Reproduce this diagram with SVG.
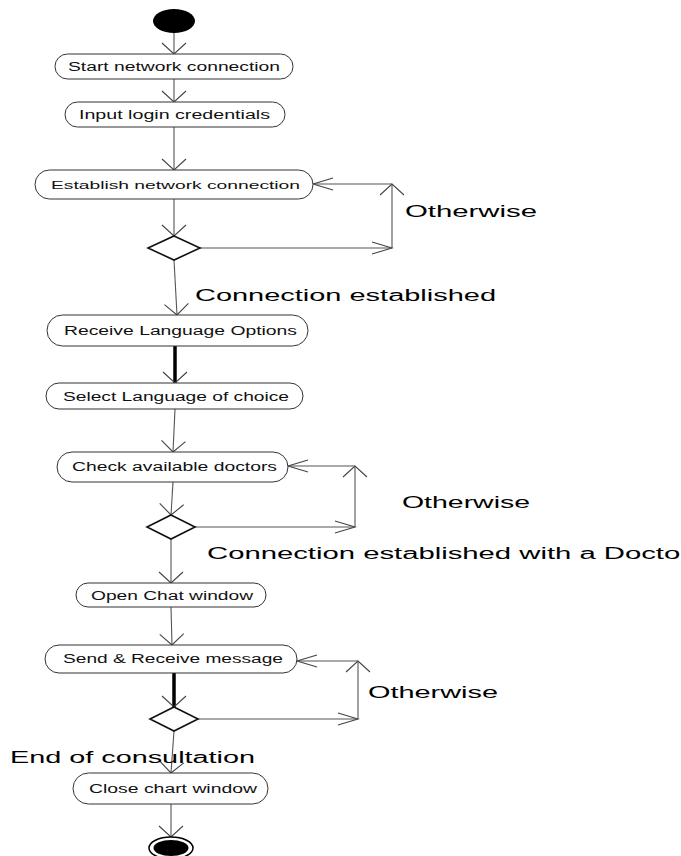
<svg xmlns="http://www.w3.org/2000/svg" width="681" height="856" viewBox="0 0 681 856">
<style>
.act{fill:#fff;stroke:#333;stroke-width:1}
.at{font-family:"Liberation Sans",Arial,sans-serif;font-size:12px;fill:#111;text-anchor:start}
.lbl{font-family:"Liberation Sans",Arial,sans-serif;font-size:16px;fill:#000}
.dia{fill:#fff;stroke:#111;stroke-width:1.6}
.c{fill:none;stroke:#555;stroke-width:1.1}
.thick{fill:none;stroke:#000;stroke-width:3.5}
</style>
<defs>
<marker id="aV" markerUnits="userSpaceOnUse" markerWidth="14" markerHeight="28" refX="12" refY="13" orient="auto" overflow="visible">
<path d="M1,1 L12,13 L1,25" fill="none" stroke="#444" stroke-width="1.1"/>
</marker>
<marker id="aH" markerUnits="userSpaceOnUse" markerWidth="24" markerHeight="16" refX="21" refY="7" orient="auto" overflow="visible">
<path d="M1,1 L21,7 L1,13" fill="none" stroke="#444" stroke-width="1.1"/>
</marker>
</defs>

<g id="connectors">
<line class="c" x1="174" y1="33" x2="174" y2="54" marker-end="url(#aV)"/>
<line class="c" x1="174" y1="79" x2="174" y2="102" marker-end="url(#aV)"/>
<line class="c" x1="174" y1="127" x2="174" y2="170" marker-end="url(#aV)"/>
<line class="c" x1="174" y1="199" x2="174" y2="236" marker-end="url(#aV)"/>
<line class="c" x1="200" y1="248" x2="392" y2="248" marker-end="url(#aH)"/>
<line class="c" x1="392" y1="248" x2="392" y2="184" marker-end="url(#aV)"/>
<line class="c" x1="392" y1="184" x2="313" y2="184" marker-end="url(#aH)"/>
<line class="c" x1="174" y1="260" x2="177" y2="315" marker-end="url(#aV)"/>
<line class="thick" x1="175" y1="346" x2="175" y2="383" marker-end="url(#aV)"/>
<line class="c" x1="175" y1="409" x2="173" y2="452" marker-end="url(#aV)"/>
<line class="c" x1="173" y1="482" x2="171" y2="515" marker-end="url(#aV)"/>
<line class="c" x1="195" y1="527" x2="355" y2="527" marker-end="url(#aH)"/>
<line class="c" x1="355" y1="527" x2="355" y2="466" marker-end="url(#aV)"/>
<line class="c" x1="355" y1="466" x2="288" y2="466" marker-end="url(#aH)"/>
<line class="c" x1="171" y1="539" x2="171" y2="583" marker-end="url(#aV)"/>
<line class="c" x1="171" y1="607" x2="172" y2="645" marker-end="url(#aV)"/>
<line class="thick" x1="174" y1="673" x2="174" y2="707" marker-end="url(#aV)"/>
<line class="c" x1="198" y1="719" x2="358" y2="719" marker-end="url(#aH)"/>
<line class="c" x1="358" y1="719" x2="358" y2="661" marker-end="url(#aV)"/>
<line class="c" x1="358" y1="661" x2="297" y2="661" marker-end="url(#aH)"/>
<line class="c" x1="174" y1="731" x2="171" y2="773" marker-end="url(#aV)"/>
<line class="c" x1="171" y1="804" x2="171" y2="837" marker-end="url(#aV)"/>
</g>

<g id="labels">
<text class="lbl" x="405" y="217" textLength="132" lengthAdjust="spacingAndGlyphs">Otherwise</text>
<text class="lbl" x="195" y="301" textLength="301" lengthAdjust="spacingAndGlyphs">Connection established</text>
<text class="lbl" x="402" y="508" textLength="128" lengthAdjust="spacingAndGlyphs">Otherwise</text>
<text class="lbl" x="207" y="559" textLength="483" lengthAdjust="spacingAndGlyphs">Connection established with a Doctor</text>
<text class="lbl" x="368" y="698" textLength="130" lengthAdjust="spacingAndGlyphs">Otherwise</text>
<text class="lbl" x="10" y="763" textLength="245" lengthAdjust="spacingAndGlyphs">End of consultation</text>
</g>

<g id="start"><ellipse cx="174" cy="21" rx="21" ry="12" fill="#000"/></g>

<g id="a1"><rect class="act" x="55" y="54" width="238" height="25" rx="12.5"/><text class="at" x="68" y="71" textLength="212" lengthAdjust="spacingAndGlyphs">Start network connection</text></g>
<g id="a2"><rect class="act" x="65" y="102" width="220" height="25" rx="12.5"/><text class="at" x="79" y="119" textLength="191" lengthAdjust="spacingAndGlyphs">Input login credentials</text></g>
<g id="a3"><rect class="act" x="35" y="170" width="278" height="29" rx="14.5"/><text class="at" x="51" y="188.5" style="font-size:11px" textLength="249" lengthAdjust="spacingAndGlyphs">Establish network connection</text></g>
<g id="d1"><polygon class="dia" points="174,236 200,248 174,260 148,248"/></g>
<g id="a4"><rect class="act" x="47" y="315" width="261" height="31" rx="15.5"/><text class="at" x="64" y="335" textLength="233" lengthAdjust="spacingAndGlyphs">Receive Language Options</text></g>
<g id="a5"><rect class="act" x="46" y="383" width="257" height="26" rx="13"/><text class="at" x="63" y="400.5" textLength="226" lengthAdjust="spacingAndGlyphs">Select Language of choice</text></g>
<g id="a6"><rect class="act" x="57" y="452" width="231" height="30" rx="15"/><text class="at" x="72" y="471" textLength="205" lengthAdjust="spacingAndGlyphs">Check available doctors</text></g>
<g id="d2"><polygon class="dia" points="171,515 195,527 171,539 147,527"/></g>
<g id="a7"><rect class="act" x="76" y="583" width="190" height="24" rx="12"/><text class="at" x="91" y="599.5" textLength="162" lengthAdjust="spacingAndGlyphs">Open Chat window</text></g>
<g id="a8"><rect class="act" x="45" y="645" width="252" height="28" rx="14"/><text class="at" x="63" y="663" textLength="220" lengthAdjust="spacingAndGlyphs">Send &amp; Receive message</text></g>
<g id="d3"><polygon class="dia" points="174,707 198,719 174,731 150,719"/></g>
<g id="a9"><rect class="act" x="73" y="773" width="195" height="31" rx="15.5"/><text class="at" x="89" y="793" textLength="168" lengthAdjust="spacingAndGlyphs">Close chart window</text></g>

<g id="end"><ellipse cx="171" cy="848" rx="22" ry="11" fill="#fff" stroke="#000" stroke-width="1.5"/><ellipse cx="171" cy="848" rx="17.5" ry="8" fill="#000"/></g>
</svg>
